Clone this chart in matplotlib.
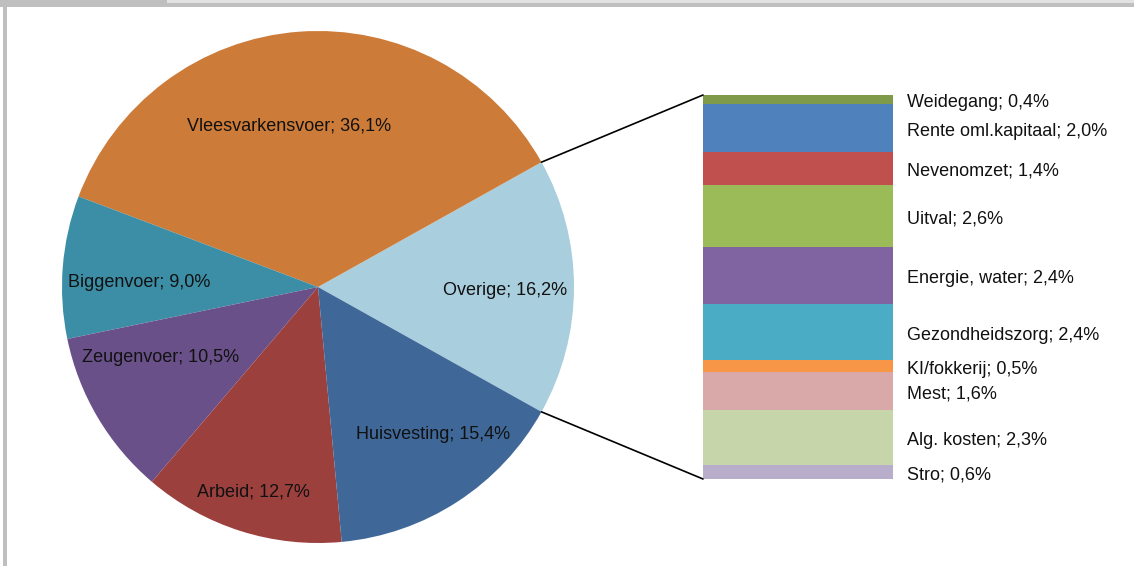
import matplotlib
matplotlib.use("Agg")
import matplotlib.pyplot as plt
import numpy as np
from matplotlib.patches import ConnectionPatch, Rectangle
from matplotlib import font_manager

# ---- data ----
pie_labels = ["Overige", "Vleesvarkensvoer", "Biggenvoer", "Zeugenvoer", "Arbeid", "Huisvesting"]
pie_values = [16.2, 36.1, 9.0, 10.5, 12.7, 15.4]
pie_colors = ["#A9CEDD", "#CD7B38", "#3C8EA6", "#6A5089", "#9C403E", "#3F6899"]

bar_labels = ["Weidegang", "Rente oml.kapitaal", "Nevenomzet", "Uitval", "Energie, water",
              "Gezondheidszorg", "KI/fokkerij", "Mest", "Alg. kosten", "Stro"]
bar_values = [0.4, 2.0, 1.4, 2.6, 2.4, 2.4, 0.5, 1.6, 2.3, 0.6]
bar_colors = ["#7F9A48", "#4F81BD", "#C0504D", "#9BBB59", "#8064A2",
              "#4BACC6", "#F79646", "#D9A9A9", "#C6D5AA", "#B8AECB"]

def fmt(v):
    return f"{v:.1f}".replace(".", ",") + "%"

# font
avail = {f.name for f in font_manager.fontManager.ttflist}
fam = "Liberation Sans Narrow" if "Liberation Sans Narrow" in avail else "Liberation Sans"
plt.rcParams["font.family"] = [fam, "DejaVu Sans"]
FS = 13 if fam == "Liberation Sans" else 14.5

W, H = 1134, 566
fig = plt.figure(figsize=(W / 100, H / 100), dpi=100)

# frame decorations
bg = fig.add_axes([0, 0, 1, 1])
bg.set_xlim(0, W); bg.set_ylim(H, 0); bg.axis("off")
bg.add_patch(Rectangle((3, 0), 4, H, color="#BFBFBF", lw=0))
bg.add_patch(Rectangle((0, 0), 167, 7, color="#BFBFBF", lw=0))
bg.add_patch(Rectangle((167, 3), W - 167, 4, color="#BFBFBF", lw=0))
bg.add_patch(Rectangle((167, 0), W - 167, 3, color="#E2E2E2", lw=0))

# pie
cx, cy, R = 318, 287, 256
axp = fig.add_axes([(cx - R) / W, (H - cy - R) / H, 2 * R / W, 2 * R / H])
total = sum(pie_values)
start = -pie_values[0] / total * 360 / 2
wedges, _ = axp.pie(pie_values, colors=pie_colors, startangle=start, counterclock=True,
                    radius=1, wedgeprops=dict(linewidth=0))
axp.set_xlim(-1, 1); axp.set_ylim(-1, 1); axp.set_aspect("equal"); axp.axis("off")

# label placement (radius fraction, angle offset in degrees)
lab_r = [0.73, 0.64, 0.70, 0.675, 0.84, 0.73]
lab_da = [-1, 6, 3, -6.5, 0, 5]
for w, lab, v, r, da in zip(wedges, pie_labels, pie_values, lab_r, lab_da):
    mid = np.deg2rad((w.theta1 + w.theta2) / 2 + da)
    axp.text(r * np.cos(mid), r * np.sin(mid), f"{lab}; {fmt(v)}", ha="center", va="center",
             fontsize=FS, color="#111111")

# stacked bar
bx0, bx1, by0, by1 = 703, 893, 95, 479
axb = fig.add_axes([bx0 / W, (H - by1) / H, (bx1 - bx0) / W, (by1 - by0) / H])
bottoms = np.concatenate([[0], np.cumsum(bar_values)[:-1]])
axb.bar([0] * len(bar_values), bar_values, bottom=bottoms, width=1, color=bar_colors, linewidth=0)
axb.set_xlim(-0.5, 0.5); axb.set_ylim(sum(bar_values), 0); axb.axis("off")
for b, v, lab in zip(bottoms, bar_values, bar_labels):
    axb.annotate(f"{lab}; {fmt(v)}", xy=(1.0, b + v / 2), xycoords=("axes fraction", "data"),
                 xytext=(14, -3), textcoords="offset pixels", ha="left", va="center",
                 fontsize=FS, color="#111111")

# connector lines
t1 = np.deg2rad(wedges[0].theta2)
t0 = np.deg2rad(wedges[0].theta1)
for th, yb in [(t1, 0), (t0, sum(bar_values))]:
    con = ConnectionPatch(xyA=(np.cos(th), np.sin(th)), coordsA=axp.transData,
                          xyB=(-0.5, yb), coordsB=axb.transData, color="black", lw=1.2)
    fig.add_artist(con)

fig.savefig("out.png", dpi=100)
